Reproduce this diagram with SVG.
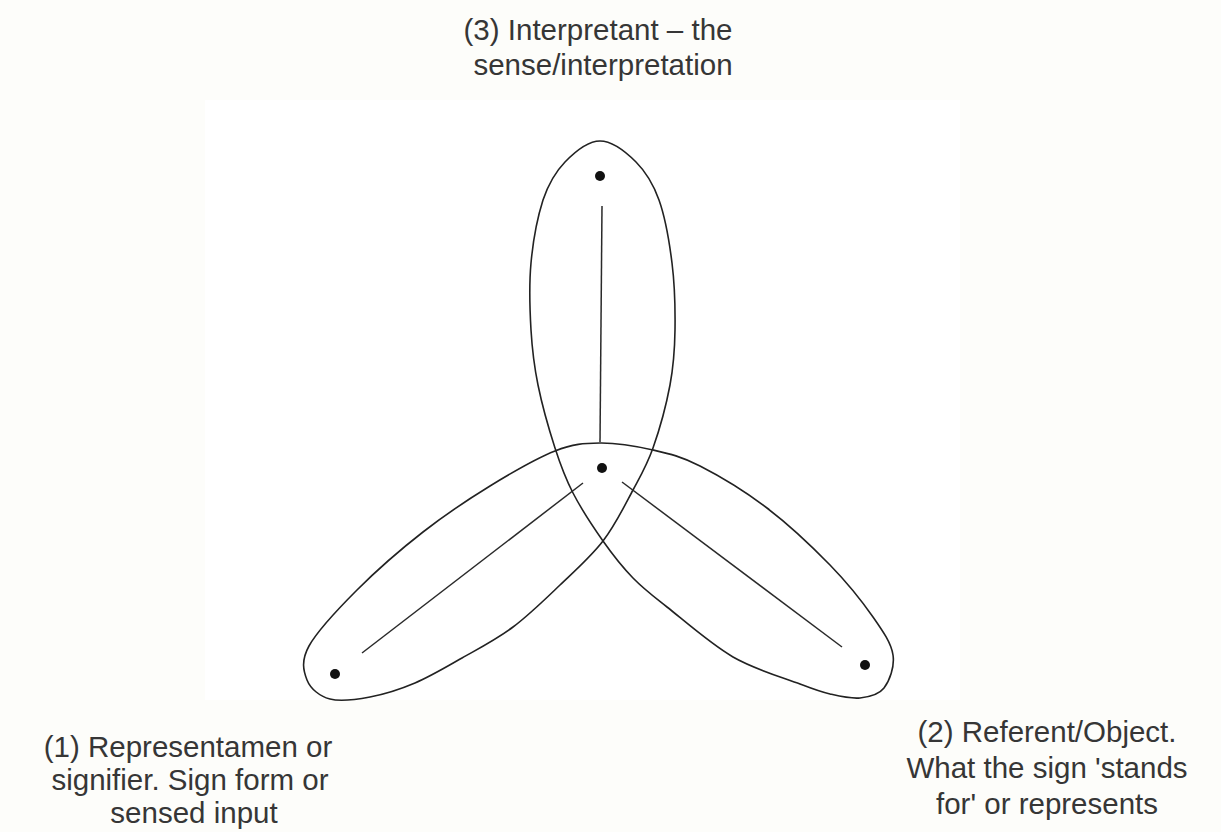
<svg xmlns="http://www.w3.org/2000/svg" width="1221" height="832" viewBox="0 0 1221 832">
  <style>
    .lbl { font-family: "Liberation Sans", Arial, sans-serif; font-size: 29.5px; fill: #363636; text-anchor: middle; }
    .curve { fill: none; stroke: #222222; stroke-width: 1.6; }
    .spoke { fill: none; stroke: #2a2a2a; stroke-width: 1.5; }
    .dot { fill: #111111; }
  </style>
  <rect x="0" y="0" width="1221" height="832" fill="#fdfdfa"/>
  <rect x="205" y="100" width="755" height="600" fill="#ffffff"/>

  <g id="trefoil">
    <path class="curve" d="M600,141 C611.8,141 626.2,152.2 636,162 C645.8,171.8 653,183.2 659,200 C665,216.8 669.3,241.3 672,263 C674.7,284.7 675.3,309.7 675,330 C674.7,350.3 673.7,365.3 670,385 C666.3,404.7 659.2,430.5 653,448 C646.8,465.5 641.3,474.5 633,490 C624.7,505.5 615.2,525.2 603,541 C590.8,556.8 575,570.7 560,585 C545,599.3 529.3,614.8 513,627 C496.7,639.2 478.3,648.7 462,658 C445.7,667.3 430.3,676.5 415,683 C399.7,689.5 384.2,694.3 370,697 C355.8,699.7 340.5,701.8 330,699 C319.5,696.2 310.5,688.8 307,680 C303.5,671.2 300.7,661 309,646 C317.3,631 338,609 357,590 C376,571 400.8,549.3 423,532 C445.2,514.7 468,499.5 490,486 C512,472.5 536.7,458.2 555,451 C573.3,443.8 583.7,443.2 600,443 C616.3,442.8 636.3,446.2 653,450 C669.7,453.8 681,456.3 700,466 C719,475.7 745.3,491.5 767,508 C788.7,524.5 812.3,546.8 830,565 C847.7,583.2 862.5,602 873,617 C883.5,632 891.2,643.2 893,655 C894.8,666.8 889.5,680.8 884,688 C878.5,695.2 869,697 860,698 C851,699 840,696.3 830,694 C820,691.7 816.2,690.2 800,684 C783.8,677.8 755.2,669.8 733,657 C710.8,644.2 683.7,620.2 667,607 C650.3,593.8 643.7,589 633,578 C622.3,567 613,555.2 603,541 C593,526.8 581,508.5 573,493 C565,477.5 560.8,466 555,448 C549.2,430 542,404.7 538,385 C534,365.3 532.2,350.3 531,330 C529.8,309.7 529,284.7 531,263 C533,241.3 537.7,216.7 543,200 C548.7,183.2 555.5,171.8 565,162 C574.5,152.2 588.2,141 600,141 Z"/>
  </g>

  <g id="connectors">
    <line class="spoke" x1="602" y1="206" x2="600" y2="442"/>
    <line class="spoke" x1="583" y1="483" x2="362" y2="653"/>
    <line class="spoke" x1="622" y1="482" x2="842" y2="647"/>
  </g>

  <g id="node-interpretant-dot"><circle class="dot" cx="600" cy="176" r="5"/></g>
  <g id="node-center-dot"><circle class="dot" cx="602" cy="468" r="5"/></g>
  <g id="node-representamen-dot"><circle class="dot" cx="335" cy="674" r="5"/></g>
  <g id="node-object-dot"><circle class="dot" cx="865" cy="665" r="5"/></g>

  <g id="label-interpretant">
    <text class="lbl" x="598" y="40">(3) Interpretant – the</text>
    <text class="lbl" x="603" y="75">sense/interpretation</text>
  </g>
  <g id="label-representamen">
    <text class="lbl" x="188" y="757">(1) Representamen or</text>
    <text class="lbl" x="190" y="790">signifier. Sign form or</text>
    <text class="lbl" x="194" y="823">sensed input</text>
  </g>
  <g id="label-object">
    <text class="lbl" x="1047" y="742">(2) Referent/Object.</text>
    <text class="lbl" x="1047" y="778">What the sign 'stands</text>
    <text class="lbl" x="1047" y="814">for' or represents</text>
  </g>
</svg>
